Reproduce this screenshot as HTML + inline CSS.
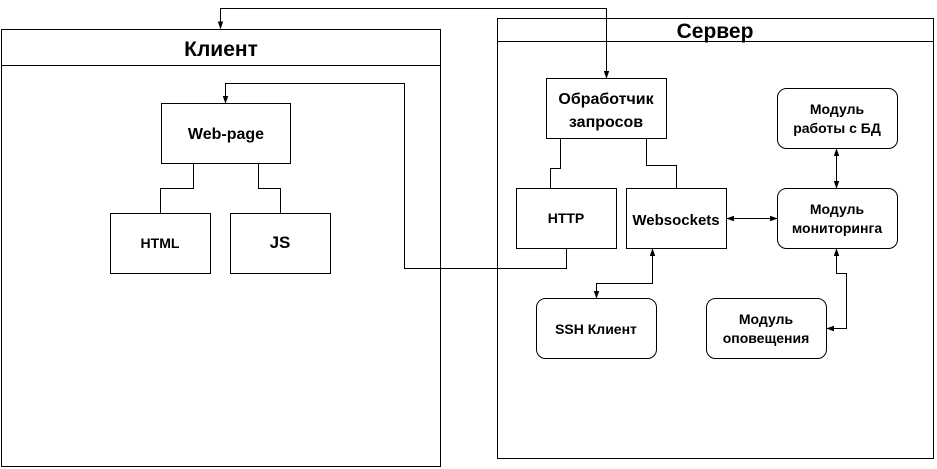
<!DOCTYPE html>
<html><head><meta charset="utf-8"><style>body{margin:0;background:#fff}svg{display:block}text{font-family:"Liberation Sans","DejaVu Sans",sans-serif;font-weight:bold;fill:#000;text-anchor:middle}</style></head><body>
<svg width="937" height="469" viewBox="0 0 937 469" xmlns="http://www.w3.org/2000/svg">
<defs><marker id="a" viewBox="0 0 10 10" refX="9" refY="5" markerWidth="8" markerHeight="8" markerUnits="userSpaceOnUse" orient="auto-start-reverse"><path d="M0,1.5 L10,5 L0,8.5z" fill="#000"/></marker></defs>
<g fill="none" stroke="#000" stroke-width="1">
<rect x="1.5" y="29.5" width="439" height="437"/><line x1="1.5" y1="65.5" x2="440.5" y2="65.5"/>
<rect x="497.5" y="18.5" width="436" height="440"/><line x1="497.5" y1="41.5" x2="933.5" y2="41.5"/>
<rect x="161.5" y="103.5" width="129" height="60"/>
<rect x="110.5" y="213.5" width="100" height="60"/>
<rect x="230.5" y="213.5" width="100" height="60"/>
<rect x="546.5" y="78.5" width="120" height="60"/>
<rect x="516.5" y="188.5" width="100" height="60"/>
<rect x="626.5" y="188.5" width="100" height="60"/>
<rect x="777.5" y="88.5" width="120" height="60" rx="9"/>
<rect x="777.5" y="188.5" width="120" height="60" rx="9"/>
<rect x="536.5" y="298.5" width="120" height="60" rx="9"/>
<rect x="706.5" y="298.5" width="120" height="60" rx="9"/>
<polyline points="193.5,163.5 193.5,188.5 160.5,188.5 160.5,213.5"/>
<polyline points="258.5,163.5 258.5,188.5 280.5,188.5 280.5,213.5"/>
<polyline points="560.5,138.5 560.5,168.5 550.5,168.5 550.5,188.5"/>
<polyline points="646.5,138.5 646.5,165.5 676.5,165.5 676.5,188.5"/>
<polyline points="606.5,78 606.5,8.5 220.5,8.5 220.5,28.5" marker-start="url(#a)" marker-end="url(#a)"/>
<polyline points="566.5,248.5 566.5,268.5 404.5,268.5 404.5,83.5 225.5,83.5 225.5,103" marker-end="url(#a)"/>
<line x1="727" y1="218.5" x2="777" y2="218.5" marker-start="url(#a)" marker-end="url(#a)"/>
<line x1="836.5" y1="149" x2="836.5" y2="188" marker-start="url(#a)" marker-end="url(#a)"/>
<polyline points="652.5,249 652.5,283.5 596.5,283.5 596.5,298" marker-start="url(#a)" marker-end="url(#a)"/>
<polyline points="836.5,249 836.5,273.5 846.5,273.5 846.5,328.5 827,328.5" marker-start="url(#a)" marker-end="url(#a)"/>
</g>
<text x="221" y="56" font-size="21">Клиент</text>
<text x="715" y="38" font-size="21">Сервер</text>
<text x="226" y="139" font-size="16">Web-page</text>
<text x="160" y="248" font-size="14">HTML</text>
<text x="280" y="248" font-size="17">JS</text>
<text x="606" y="104" font-size="16">Обработчик</text>
<text x="606" y="127" font-size="16">запросов</text>
<text x="566" y="223" font-size="14">HTTP</text>
<text x="676" y="225" font-size="15">Websockets</text>
<text x="837" y="114" font-size="14">Модуль</text>
<text x="837" y="133" font-size="14">работы с БД</text>
<text x="837" y="214" font-size="14">Модуль</text>
<text x="837" y="233" font-size="14">мониторинга</text>
<text x="596" y="334" font-size="14">SSH Клиент</text>
<text x="766" y="324" font-size="14">Модуль</text>
<text x="766" y="343" font-size="14">оповещения</text>
</svg>
</body></html>
